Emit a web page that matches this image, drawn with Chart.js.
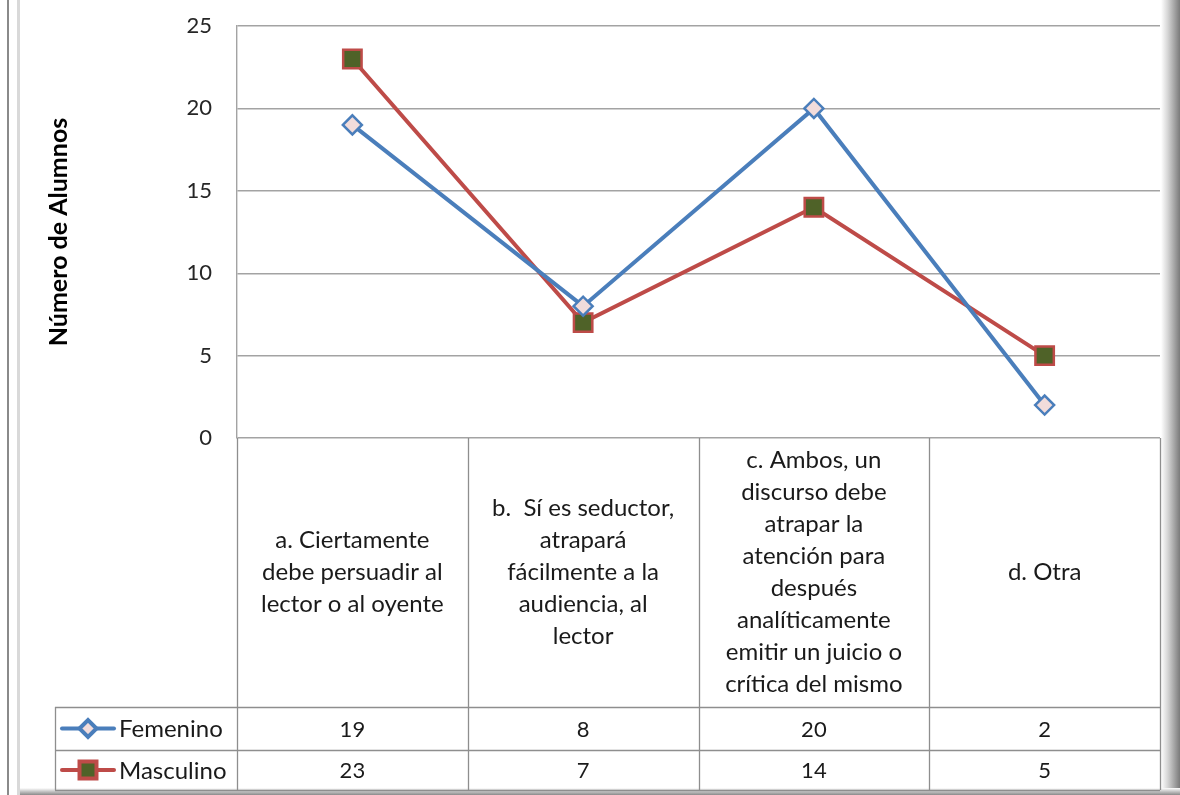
<!DOCTYPE html>
<html>
<head>
<meta charset="utf-8">
<script src="https://cdn.jsdelivr.net/npm/chart.js@4.4.0/dist/chart.umd.min.js"></script>
<style>
  html, body { margin: 0; padding: 0; background: #fff; }
  #wrap { width: 1180px; height: 795px; }
</style>
</head>
<body>
<div id="wrap"><canvas id="chart" width="1180" height="795"></canvas></div>
<script>
// Categories (already wrapped into lines like the table cells)
const CATEGORIES = [
  ['a. Ciertamente', 'debe persuadir al', 'lector o al oyente'],
  ['b.  Sí es seductor,', 'atrapará', 'fácilmente a la', 'audiencia, al', 'lector'],
  ['c. Ambos, un', 'discurso debe', 'atrapar la', 'atención para', 'después', 'analíticamente', 'emitir un juicio o', 'crítica del mismo'],
  ['d. Otra'],
];
const FEMENINO  = [19, 8, 20, 2];
const MASCULINO = [23, 7, 14, 5];
const Y_MIN = 0, Y_MAX = 25, Y_STEP = 5;
const Y_TITLE = 'Número de Alumnos';

const FONT = 'Lato, "Open Sans", sans-serif';
const BLUE = '#4a7ebb', RED = '#be4b48';
const GRID = '#a3a3a3', TABLE_LINE = '#8e8e8e';

// table rows under the plot (label row, then one row per series)
const LABEL_ROW_BOTTOM = 707;
const SERIES_ROWS = [[707, 750], [750, 790]];
const LEGEND_LEFT = 55;

const series = [
  { label: 'Femenino',  data: FEMENINO,  color: BLUE, style: 'rectRot', radius: 9.5, fill: '#f2dcdb' },
  { label: 'Masculino', data: MASCULINO, color: RED,  style: 'rect',    radius: 13,  fill: '#4f6228' },
];

const frame = {
  id: 'frame',
  beforeDraw(chart) {
    const { ctx, width, height } = chart;
    ctx.save();
    ctx.fillStyle = '#fff';
    ctx.fillRect(0, 0, width, height);
    // right shadow
    let g = ctx.createLinearGradient(1161, 0, 1180, 0);
    g.addColorStop(0, '#ffffff');
    g.addColorStop(0.35, '#d6d6d6');
    g.addColorStop(1, '#7a7a7a');
    ctx.fillStyle = g;
    ctx.fillRect(1161, 0, 19, height);
    // bottom shadow
    g = ctx.createLinearGradient(0, 788, 0, 795);
    g.addColorStop(0, '#ffffff');
    g.addColorStop(0.4, '#d0d0d0');
    g.addColorStop(1, '#8a8a8a');
    ctx.fillStyle = g;
    ctx.fillRect(18, 788, 1162, 7);
    // left double edge
    ctx.fillStyle = '#8a8a8a';
    ctx.fillRect(7, 0, 2, height);
    ctx.fillStyle = '#d9d9d9';
    ctx.fillRect(17, 0, 3, height);
    ctx.restore();
  }
};

const dataTable = {
  id: 'dataTable',
  afterDraw(chart) {
    const { ctx, chartArea } = chart;
    const x = chart.scales.x;
    const n = CATEGORIES.length;
    const colW = (chartArea.right - chartArea.left) / n;
    const top = chartArea.bottom;
    const bottom = SERIES_ROWS[SERIES_ROWS.length - 1][1];
    ctx.save();
    ctx.strokeStyle = TABLE_LINE;
    ctx.lineWidth = 1.3;
    ctx.beginPath();
    // vertical column lines
    for (let i = 0; i <= n; i++) {
      const px = Math.round(chartArea.left + i * colW) + 0.5;
      ctx.moveTo(px, top);
      ctx.lineTo(px, bottom);
    }
    ctx.moveTo(LEGEND_LEFT + 0.5, LABEL_ROW_BOTTOM);
    ctx.lineTo(LEGEND_LEFT + 0.5, bottom);
    // horizontal row lines
    [LABEL_ROW_BOTTOM, ...SERIES_ROWS.map(r => r[1])].forEach(py => {
      ctx.moveTo(LEGEND_LEFT, py + 0.5);
      ctx.lineTo(chartArea.right, py + 0.5);
    });
    ctx.stroke();

    // category labels
    ctx.fillStyle = '#1a1a1a';
    ctx.textAlign = 'center';
    ctx.textBaseline = 'middle';
    ctx.font = '24px ' + FONT;
    const midLabel = (top + LABEL_ROW_BOTTOM) / 2;
    const lh = 32;
    CATEGORIES.forEach((lines, i) => {
      const cx = x.getPixelForValue(i);
      lines.forEach((t, j) => {
        ctx.fillText(t, cx, midLabel + (j - (lines.length - 1) / 2) * lh);
      });
    });

    // series rows: legend key + values
    series.forEach((s, k) => {
      const [r0, r1] = SERIES_ROWS[k];
      const cy = (r0 + r1) / 2;
      ctx.strokeStyle = s.color;
      ctx.lineWidth = 4;
      ctx.lineCap = 'round';
      ctx.beginPath();
      ctx.moveTo(62, cy);
      ctx.lineTo(114, cy);
      ctx.stroke();
      ctx.fillStyle = s.fill;
      ctx.strokeStyle = s.color;
      Chart.helpers.drawPoint(ctx, {
        pointStyle: s.style, radius: s.style === 'rect' ? 12 : 8.5,
        borderWidth: 2, rotation: 0
      }, 88, cy);
      ctx.fillStyle = '#1a1a1a';
      ctx.textAlign = 'left';
      ctx.font = '24px ' + FONT;
      ctx.fillText(s.label, 119, cy + 1);
      ctx.textAlign = 'center';
      ctx.font = '22px ' + FONT;
      s.data.forEach((v, i) => ctx.fillText(String(v), x.getPixelForValue(i), cy + 1));
    });
    ctx.restore();
  }
};

new Chart(document.getElementById('chart'), {
  type: 'line',
  data: {
    labels: CATEGORIES,
    datasets: series.map(s => ({
      label: s.label,
      data: s.data,
      borderColor: s.color,
      borderWidth: 4,
      tension: 0,
      pointStyle: s.style,
      pointRadius: s.radius,
      pointBackgroundColor: s.fill,
      pointBorderColor: s.color,
      pointBorderWidth: 2.5,
      clip: false,
    })),
  },
  options: {
    responsive: false,
    animation: false,
    devicePixelRatio: 1,
    layout: { autoPadding: false, padding: { left: 0, top: 26, right: 20, bottom: 0 } },
    plugins: { legend: { display: false }, tooltip: { enabled: false } },
    scales: {
      x: {
        offset: true,
        ticks: { display: false },
        grid: { display: false },
        border: { display: false },
        afterFit: s => { s.height = 795 - 438; },
      },
      y: {
        min: Y_MIN, max: Y_MAX,
        ticks: { stepSize: Y_STEP, padding: 25, color: '#262626', font: { family: FONT, size: 22 } },
        grid: { color: GRID, lineWidth: 1.4, drawTicks: false },
        border: { display: true, color: GRID, width: 1.4 },
        title: {
          display: true, text: Y_TITLE, color: '#000',
          font: { family: FONT, size: 25, weight: 'bold' },
          padding: { top: 44, bottom: 0 },
        },
        afterFit: s => { s.width = 237; s.paddingTop = 0; s.paddingBottom = 0; },
      },
    },
  },
  plugins: [frame, dataTable],
});
</script>
</body>
</html>
